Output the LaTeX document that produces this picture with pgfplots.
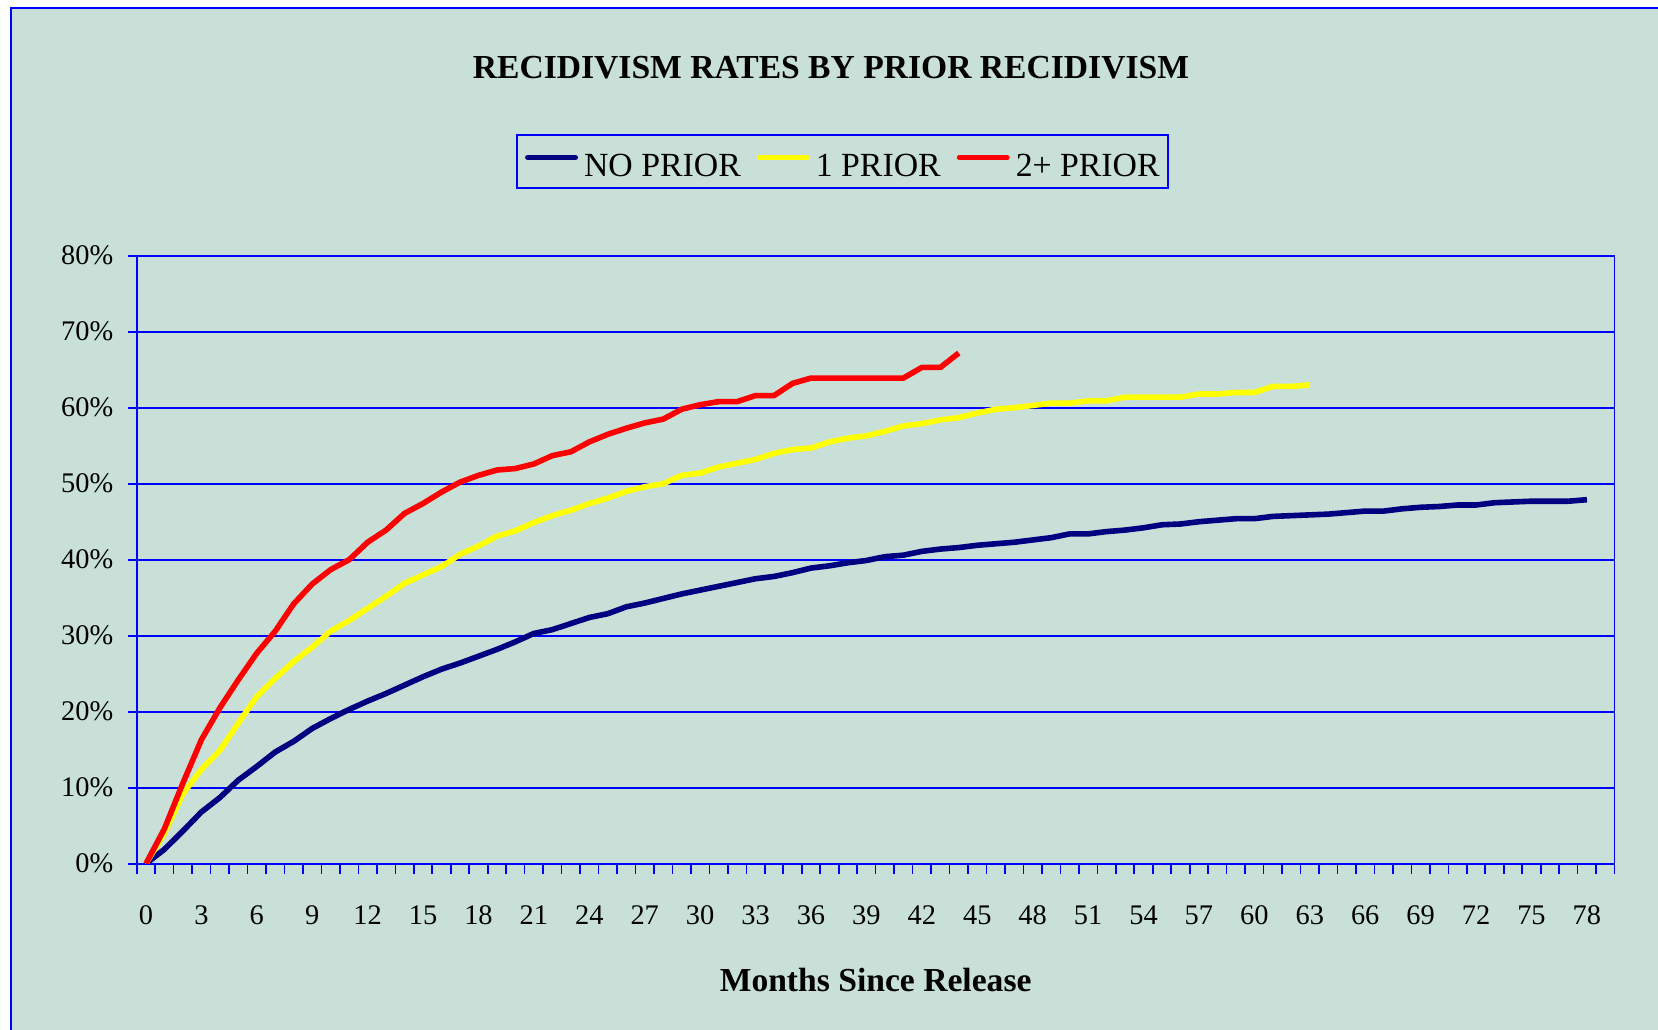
\documentclass[border=0pt]{standalone}
\usepackage{pgfplots}
\pgfplotsset{compat=1.18}
\usepackage{fontspec}
\setmainfont{Liberation Serif}
\definecolor{bgc}{RGB}{200,224,216}
\definecolor{navyc}{RGB}{0,0,128}
\definecolor{bluec}{RGB}{0,0,255}
\definecolor{yellowc}{RGB}{255,255,0}
\definecolor{redc}{RGB}{255,0,0}

\pgfplotstableread{
m v
0 0
1 1.9
2 4.3
3 6.8
4 8.7
5 11.0
6 12.8
7 14.7
8 16.1
9 17.8
10 19.1
11 20.3
12 21.4
13 22.4
14 23.5
15 24.6
16 25.6
17 26.4
18 27.3
19 28.2
20 29.2
21 30.3
22 30.8
23 31.6
24 32.4
25 32.9
26 33.8
27 34.3
28 34.9
29 35.5
30 36.0
31 36.5
32 37.0
33 37.5
34 37.8
35 38.3
36 38.9
37 39.2
38 39.6
39 39.9
40 40.4
41 40.6
42 41.1
43 41.4
44 41.6
45 41.9
46 42.1
47 42.3
48 42.6
49 42.9
50 43.4
51 43.4
52 43.7
53 43.9
54 44.2
55 44.6
56 44.7
57 45.0
58 45.2
59 45.4
60 45.4
61 45.7
62 45.8
63 45.9
64 46.0
65 46.2
66 46.4
67 46.4
68 46.7
69 46.9
70 47.0
71 47.2
72 47.2
73 47.5
74 47.6
75 47.7
76 47.7
77 47.7
78 47.9
}\noprior

\pgfplotstableread{
m v
0 0
1 4.0
2 9.2
3 12.4
4 14.9
5 18.5
6 22.0
7 24.4
8 26.6
9 28.5
10 30.6
11 32.0
12 33.6
13 35.2
14 36.9
15 38.0
16 39.1
17 40.7
18 41.8
19 43.1
20 43.8
21 44.9
22 45.8
23 46.5
24 47.4
25 48.1
26 49.0
27 49.6
28 50.0
29 51.1
30 51.4
31 52.2
32 52.7
33 53.2
34 54.0
35 54.5
36 54.7
37 55.5
38 56.0
39 56.3
40 56.9
41 57.6
42 57.9
43 58.4
44 58.7
45 59.3
46 59.8
47 60.0
48 60.3
49 60.6
50 60.6
51 60.9
52 60.9
53 61.4
54 61.4
55 61.4
56 61.4
57 61.8
58 61.8
59 62.0
60 62.0
61 62.8
62 62.8
63 63.0
}\oneprior

\pgfplotstableread{
m v
0 0
1 4.6
2 10.6
3 16.3
4 20.5
5 24.2
6 27.7
7 30.6
8 34.2
9 36.8
10 38.7
11 40.0
12 42.3
13 43.9
14 46.1
15 47.4
16 48.9
17 50.2
18 51.1
19 51.8
20 52.0
21 52.6
22 53.7
23 54.2
24 55.5
25 56.5
26 57.3
27 58.0
28 58.5
29 59.8
30 60.4
31 60.8
32 60.8
33 61.6
34 61.6
35 63.2
36 63.9
37 63.9
38 63.9
39 63.9
40 63.9
41 63.9
42 65.3
43 65.3
44 67.2
}\twoprior

\begin{document}
\begin{tikzpicture}
\useasboundingbox (0,0) rectangle (829pt,-514.5pt);
\fill[white] (0,0) rectangle (829pt,-514.5pt);
\fill[bgc] (5.5pt,-3.85pt) rectangle (840pt,-530pt);
\draw[bluec, line width=0.85pt] (5.5pt,-530pt) -- (5.5pt,-3.85pt) -- (840pt,-3.85pt);
\node[anchor=base, font=\bfseries\fontsize{16.8}{19}\selectfont] at (415.5pt,-39pt) {RECIDIVISM RATES BY PRIOR RECIDIVISM};
\begin{axis}[
  at={(68.35pt,-431.85pt)}, anchor=south west,
  scale only axis, width=738.95pt, height=304pt,
  xmin=-0.5, xmax=79.5, ymin=0, ymax=80,
  axis line style={bluec, line width=0.8pt},
  tick align=outside,
  xtick pos=bottom, ytick pos=left,
  xtick={0,3,...,78},
  xticklabels={0,3,6,9,12,15,18,21,24,27,30,33,36,39,42,45,48,51,54,57,60,63,66,69,72,75,78},
  minor xtick={-0.5,0.5,...,79.5},
  major x tick style={draw=none},
  minor x tick style={bluec, line width=0.8pt},
  minor tick length=5pt,
  ytick={0,10,...,80},
  yticklabels={0\%,10\%,20\%,30\%,40\%,50\%,60\%,70\%,80\%},
  major y tick style={bluec, line width=0.8pt},
  major tick length=4.2pt,
  ymajorgrids, major grid style={bluec, line width=0.8pt},
  /pgf/number format/assume math mode=true,
  ticklabel style={font=\fontsize{14.2}{16}\selectfont},
  xticklabel style={anchor=base, yshift=-26pt},
  yticklabel style={anchor=east, xshift=-4pt},
  xlabel={Months Since Release},
  xlabel style={at={(axis description cs:0.5,-0.2105)}, anchor=base, font=\bfseries\fontsize{16.8}{19}\selectfont},
  legend columns=3,
  legend image code/.code={\draw[#1, line width=2.6pt, line cap=round] (1.3pt,1.9pt) -- (25.2pt,1.9pt);},
  legend style={at={(0.4775,1.2002)}, anchor=north, draw=bluec, line width=0.8pt, fill=bgc,
    font=\fontsize{16.9}{18}\selectfont, inner xsep=4pt, inner ysep=3pt,
    nodes={inner sep=0pt, text height=18pt, text depth=2.5pt},
    /tikz/every odd column/.append style={column sep=3pt},
    /tikz/every even column/.append style={column sep=8pt}},
  every axis plot/.append style={line width=2.8pt, line join=round},
]
\addplot[navyc, mark=none] table[x=m,y=v] {\noprior};
\addlegendentry{NO PRIOR}
\addplot[yellowc, mark=none] table[x=m,y=v] {\oneprior};
\addlegendentry{1 PRIOR}
\addplot[redc, mark=none] table[x=m,y=v] {\twoprior};
\addlegendentry{2+ PRIOR}
\end{axis}
\end{tikzpicture}
\end{document}
